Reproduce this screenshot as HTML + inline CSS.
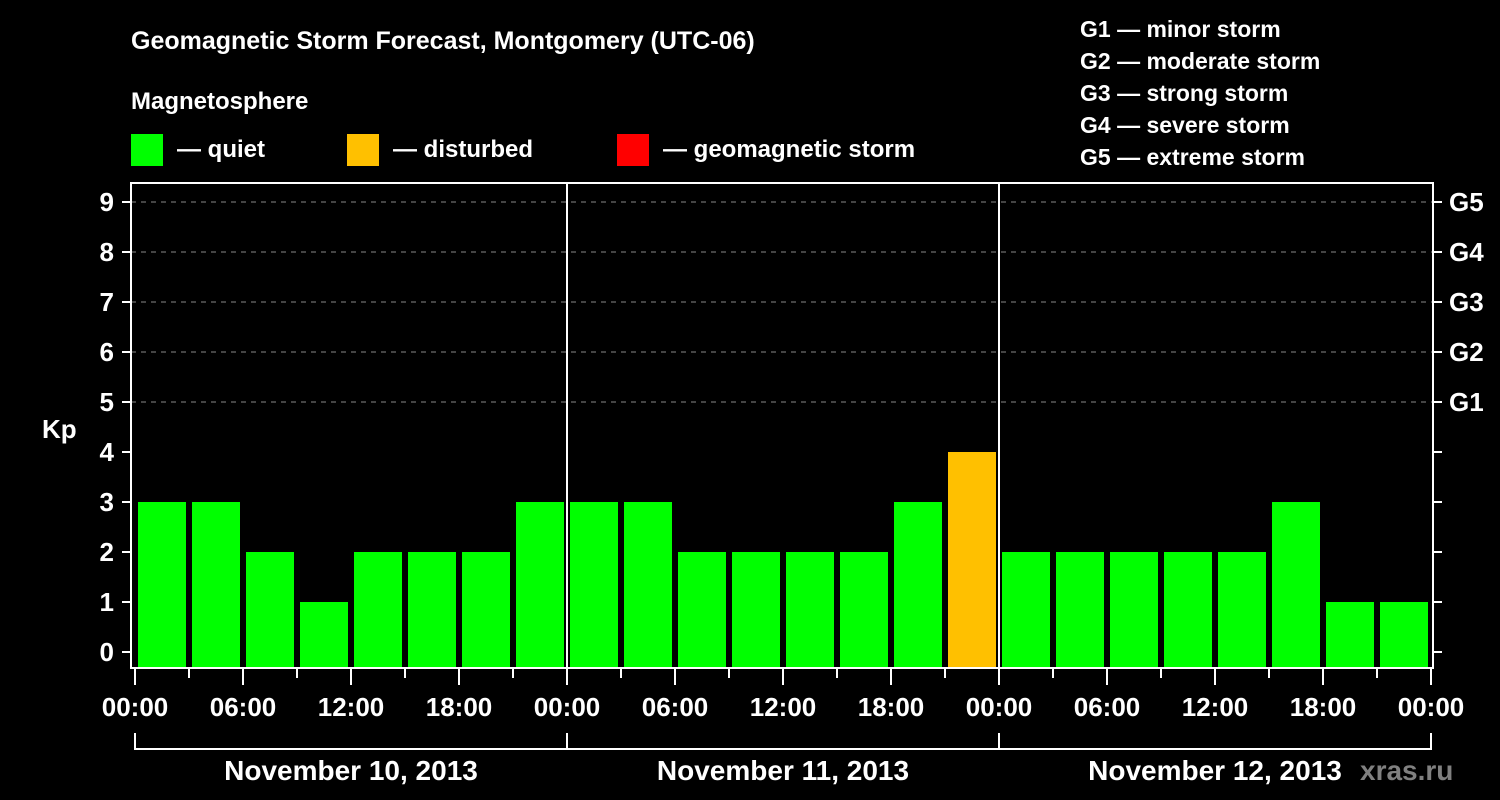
<!DOCTYPE html>
<html><head><meta charset="utf-8"><style>
html,body{margin:0;padding:0;background:#000;width:1500px;height:800px;overflow:hidden}
svg{display:block;font-family:"Liberation Sans",Arial,sans-serif;font-weight:bold}
</style></head><body>
<svg id="chart" width="1500" height="800" viewBox="0 0 1500 800">
<rect width="1500" height="800" fill="#000"/>
<text x="131" y="49" fill="#fff" font-size="25">Geomagnetic Storm Forecast, Montgomery (UTC-06)</text>
<text x="131" y="109" fill="#fff" font-size="24">Magnetosphere</text>
<g><rect x="131" y="134" width="32" height="32" fill="#00ff00"/><text x="177" y="157" fill="#fff" font-size="24">— quiet</text></g>
<g><rect x="347" y="134" width="32" height="32" fill="#ffc000"/><text x="393" y="157" fill="#fff" font-size="24">— disturbed</text></g>
<g><rect x="617" y="134" width="32" height="32" fill="#ff0000"/><text x="663" y="157" fill="#fff" font-size="24">— geomagnetic storm</text></g>
<g fill="#fff" font-size="23">
<text x="1080" y="37">G1 — minor storm</text>
<text x="1080" y="69">G2 — moderate storm</text>
<text x="1080" y="101">G3 — strong storm</text>
<text x="1080" y="133">G4 — severe storm</text>
<text x="1080" y="165">G5 — extreme storm</text>
</g>
<text x="42" y="438" fill="#fff" font-size="26">Kp</text>
<text x="1360" y="780" fill="#808080" font-size="28">xras.ru</text>
<g id="grid"></g><g id="bars"></g><g id="axes"></g>
</svg>
<script>
const values=[3,3,2,1,2,2,2,3, 3,3,2,2,2,2,3,4, 2,2,2,2,2,3,1,1];
const kpTicks=[0,1,2,3,4,5,6,7,8,9];
const gLabels=["G1","G2","G3","G4","G5"];
const timeLabels=["00:00","06:00","12:00","18:00"];
const dayLabels=["November 10, 2013","November 11, 2013","November 12, 2013"];
const NS="http://www.w3.org/2000/svg";
const L=131,R=1433,T=183,B=668,X0=135,HW=18;
const yS=v=>652-50*v;
const xS=h=>X0+h*HW; // hours since start
function mk(tag,attrs,parent,txt){const e=document.createElementNS(NS,tag);for(const k in attrs)e.setAttribute(k,attrs[k]);if(txt!==undefined)e.textContent=txt;parent.appendChild(e);return e;}
const grid=document.getElementById('grid'),bars=document.getElementById('bars'),axes=document.getElementById('axes');
for(let k=5;k<=9;k++){const l=mk('line',{x1:L,x2:R,y1:yS(k),y2:yS(k),stroke:'#888','stroke-width':1,'stroke-dasharray':'5,5'},grid);

}
values.forEach((v,i)=>{const x=xS(i*3)+3;const c=v>=5?'#ff0000':(v>=4?'#ffc000':'#00ff00');
const r=mk('rect',{x:x,y:yS(v),width:48,height:B-yS(v),fill:c},bars);

});
const f=mk('rect',{x:L,y:T,width:R-L,height:B-T,fill:'none',stroke:'#fff','stroke-width':2},axes);


for(let d=1;d<dayLabels.length;d++){const l=mk('line',{x1:xS(d*24),x2:xS(d*24),y1:T,y2:B,stroke:'#fff','stroke-width':2},axes);

}
kpTicks.forEach(k=>{mk('line',{x1:122,x2:L,y1:yS(k),y2:yS(k),stroke:'#fff','stroke-width':2},axes);
mk('line',{x1:R,x2:R+9,y1:yS(k),y2:yS(k),stroke:'#fff','stroke-width':2},axes);
const t=mk('text',{x:114,y:yS(k)+9,fill:'#fff','font-size':26,'text-anchor':'end'},axes,String(k));

});
gLabels.forEach((g,i)=>{const t=mk('text',{x:1449,y:yS(5+i)+9,fill:'#fff','font-size':26},axes,g);

});
const nH=dayLabels.length*24;
for(let h=0;h<=nH;h+=3){const major=h%6===0;mk('line',{x1:xS(h),x2:xS(h),y1:B,y2:major?685:678,stroke:'#fff','stroke-width':2},axes);
if(major){const t=mk('text',{x:xS(h),y:716,fill:'#fff','font-size':26,'text-anchor':'middle'},axes,timeLabels[(h%24)/6]);

}}
dayLabels.forEach((d,i)=>{const a=xS(i*24),b=xS((i+1)*24);
mk('path',{d:`M${a} 733V749H${b}V733`,fill:'none',stroke:'#fff','stroke-width':2},axes);
const t=mk('text',{x:(a+b)/2,y:780,fill:'#fff','font-size':28,'text-anchor':'middle'},axes,d);

});
</script>
</body></html>
